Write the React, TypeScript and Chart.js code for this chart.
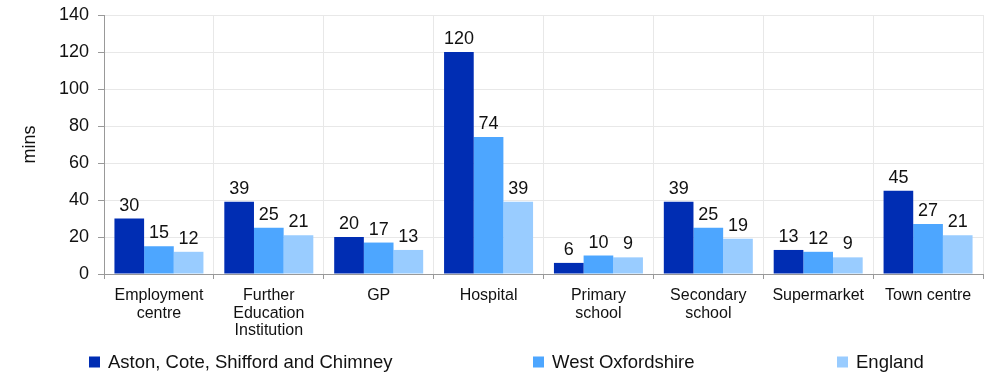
import React, { useEffect, useRef } from "react";
import { Chart, registerables } from "chart.js";

Chart.register(...registerables);

const categories: (string | string[])[] = [
  ["Employment", "centre"],
  ["Further", "Education", "Institution"],
  "GP",
  "Hospital",
  ["Primary", "school"],
  ["Secondary", "school"],
  "Supermarket",
  "Town centre",
];

const seriesNames = ["Aston, Cote, Shifford and Chimney", "West Oxfordshire", "England"];
const astonValues = [30, 39, 20, 120, 6, 39, 13, 45];
const westOxValues = [15, 25, 17, 74, 10, 25, 12, 27];
const englandValues = [12, 21, 13, 39, 9, 19, 9, 21];
const seriesColors = ["#002db3", "#4da6ff", "#99ccff"];

const yMin = 0;
const yMax = 140;
const yStep = 20;
const yTitle = "mins";

const FONT = "'Liberation Sans', Arial, sans-serif";
const legendX = [89, 533, 837];

const dataLabelPlugin = {
  id: "dataLabels",
  afterDatasetsDraw(chart: any) {
    const ctx = chart.ctx;
    ctx.save();
    ctx.font = `18px ${FONT}`;
    ctx.fillStyle = "#111";
    ctx.textAlign = "center";
    ctx.textBaseline = "alphabetic";
    chart.data.datasets.forEach((ds: any, i: number) => {
      const meta = chart.getDatasetMeta(i);
      meta.data.forEach((el: any, j: number) => {
        ctx.fillText(String(ds.data[j]), el.x, el.y - 8);
      });
    });
    ctx.restore();
  },
};

const legendPlugin = {
  id: "customLegend",
  afterDraw(chart: any) {
    const ctx = chart.ctx;
    ctx.save();
    ctx.font = `18.5px ${FONT}`;
    ctx.textBaseline = "middle";
    ctx.textAlign = "left";
    const y = 362;
    chart.data.datasets.forEach((ds: any, i: number) => {
      const x = legendX[i];
      ctx.fillStyle = ds.backgroundColor;
      ctx.fillRect(x, y - 5.5, 11, 11);
      ctx.fillStyle = "#111";
      ctx.fillText(ds.label, x + 19, y + 1);
    });
    ctx.restore();
  },
};

export default function App() {
  const ref = useRef<HTMLCanvasElement | null>(null);
  useEffect(() => {
    if (!ref.current) return;
    const chart = new Chart(ref.current, {
      type: "bar",
      data: {
        labels: categories,
        datasets: [
          { label: seriesNames[0], data: astonValues, backgroundColor: seriesColors[0] },
          { label: seriesNames[1], data: westOxValues, backgroundColor: seriesColors[1] },
          { label: seriesNames[2], data: englandValues, backgroundColor: seriesColors[2] },
        ],
      },
      options: {
        animation: false,
        responsive: false,
        maintainAspectRatio: false,
        layout: { padding: { top: 0, right: 2, left: 0, bottom: 0 } },
        datasets: { bar: { categoryPercentage: 0.81, barPercentage: 1 } },
        plugins: {
          legend: { display: false },
          tooltip: { enabled: false },
        },
        scales: {
          x: {
            grid: {
              offset: true,
              color: "#e8e8e8",
              tickColor: "#999",
              tickLength: 5,
              lineWidth: 1,
            },
            border: { color: "#999", width: 1 },
            ticks: {
              color: "#111",
              font: { family: FONT, size: 16, lineHeight: 1.1 },
              padding: 8,
              maxRotation: 0,
              autoSkip: false,
            },
            afterFit(scale: any) {
              scale.height = 100;
            },
          },
          y: {
            min: yMin,
            max: yMax,
            grid: {
              color: "#e8e8e8",
              tickColor: "#999",
              tickLength: 6,
            },
            border: { color: "#999", width: 1 },
            ticks: {
              stepSize: yStep,
              color: "#111",
              font: { family: FONT, size: 18 },
              padding: 9,
            },
            title: {
              display: true,
              text: yTitle,
              color: "#111",
              font: { family: FONT, size: 18 },
              padding: { top: 19, bottom: 0 },
            },
            afterFit(scale: any) {
              scale.width = 104;
              scale.paddingTop = 15;
            },
          },
        },
      },
      plugins: [dataLabelPlugin, legendPlugin],
    });
    return () => chart.destroy();
  }, []);
  return (
    <div style={{ position: "fixed", left: 0, top: 0, width: 985, height: 374, background: "#fff" }}>
      <canvas ref={ref} width={985} height={374} style={{ display: "block" }} />
    </div>
  );
}
